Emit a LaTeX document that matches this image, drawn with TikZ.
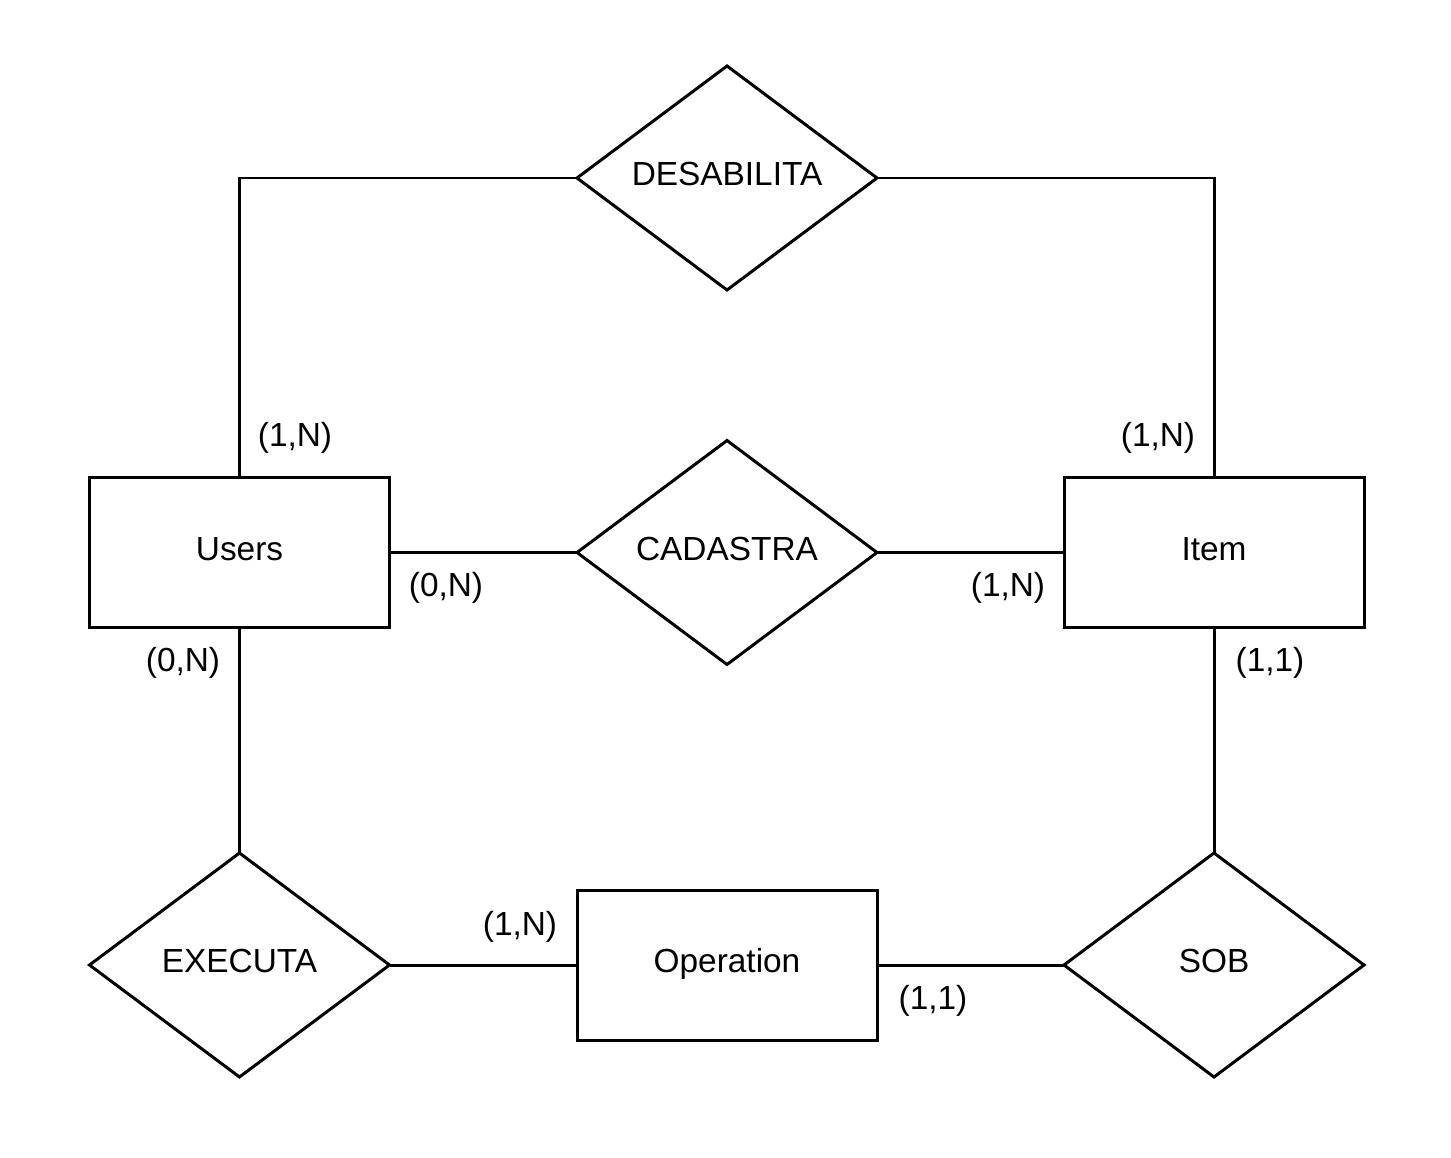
\documentclass[tikz,border=0pt]{standalone}
\usepackage{fontspec}
\setmainfont{Liberation Sans}
\usetikzlibrary{shapes.geometric,positioning}
\tikzset{
  entity/.style={draw, rectangle, minimum width=6cm, minimum height=3cm, outer sep=0pt,
    text height=0.5cm, text depth=0.2cm},
  relation/.style={draw, diamond, aspect=1.34, minimum width=6cm, minimum height=4.48cm, inner sep=0pt, outer sep=0pt,
    text height=0.5cm, text depth=0.2cm},
  card/.style={inner sep=1pt}
}

\begin{document}
\begin{tikzpicture}[line width=1.7pt, font=\fontsize{19}{22}\selectfont]
\useasboundingbox (0,0) rectangle (29.02,23.14);
% entities
\foreach \n/\x/\y/\t in {users/4.79/12.09/Users, item/24.28/12.09/Item, oper/14.54/3.84/Operation}
  \node[entity] (\n) at (\x,\y) {\t};
% relationships
\foreach \n/\x/\y/\t in {desab/14.54/19.58/DESABILITA, cadas/14.54/12.09/CADASTRA,
    execu/4.79/3.84/EXECUTA, sob/24.28/3.84/SOB}
  \node[relation] (\n) at (\x,\y) {\t};
% connectors
\draw (users) |- (desab);
\draw (desab) -| (item);
\draw (users) -- (cadas);
\draw (cadas) -- (item);
\draw (users) -- (execu);
\draw (execu) -- (oper);
\draw (oper) -- (sob);
\draw (item) -- (sob);
% cardinalities
\foreach \i/\x/\y/\t in {1/5.9/14.38/{(1,N)}, 2/23.16/14.38/{(1,N)}, 3/8.92/11.38/{(0,N)},
    4/20.16/11.38/{(1,N)}, 5/3.66/9.88/{(0,N)}, 6/25.4/9.88/{(1,1)},
    7/10.4/4.6/{(1,N)}, 8/18.66/3.12/{(1,1)}}
  \node[card] (card\i) at (\x,\y) {\t};
\end{tikzpicture}
\end{document}
